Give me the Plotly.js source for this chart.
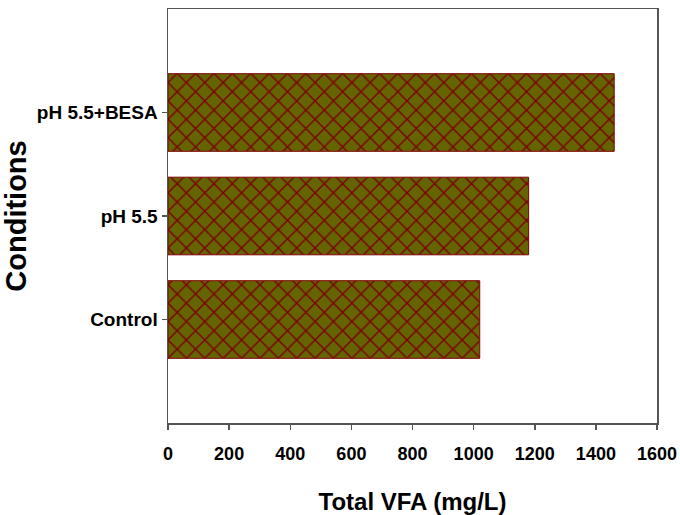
<!DOCTYPE html>
<html>
<head>
<script src="https://cdn.plot.ly/plotly-3.0.1.min.js"></script>
<style>body{margin:0;background:#fff;}#chart{width:680px;height:515px;}</style>
</head>
<body>
<div id="chart"></div>
<script>
const categories = ["Control", "pH 5.5", "pH 5.5+BESA"];
const totalVFA = [1020, 1180, 1460];
const xTicks = [0, 200, 400, 600, 800, 1000, 1200, 1400, 1600];

const font = {family: "Liberation Sans, Arial, sans-serif", color: "#000", weight: "bold"};

Plotly.newPlot("chart", [{
  type: "bar",
  orientation: "h",
  y: categories,
  x: totalVFA,
  width: 0.75,
  marker: {
    color: "#646400",
    line: {color: "#800000", width: 1},
    pattern: {shape: "x", fgcolor: "#7a0000", bgcolor: "#646400", size: 13, solidity: 0.2, fillmode: "replace"}
  },
  hoverinfo: "none"
}], {
  width: 680, height: 515,
  margin: {l: 168, r: 23, t: 9, b: 92},
  paper_bgcolor: "#fff", plot_bgcolor: "#fff",
  showlegend: false,
  xaxis: {
    range: [0, 1600], tickvals: xTicks, ticktext: xTicks.map(String),
    showgrid: false, zeroline: false,
    showline: true, linecolor: "#555", linewidth: 1.5, mirror: true,
    ticks: "outside", ticklen: 5, tickcolor: "#555", tickwidth: 1.5,
    ticklabelstandoff: 9,
    tickfont: Object.assign({}, font, {size: 18}),
    title: {text: "Total VFA (mg/L)", font: Object.assign({}, font, {size: 24}), standoff: 30},
    automargin: false
  },
  yaxis: {
    type: "category", range: [-1, 3],
    showgrid: false, zeroline: false,
    showline: true, linecolor: "#555", linewidth: 1.5, mirror: true,
    ticks: "outside", ticklen: 5, tickcolor: "#555", tickwidth: 1.5,
    tickfont: Object.assign({}, font, {size: 19}),
    title: {text: "Conditions", font: Object.assign({}, font, {size: 29}), standoff: 1},
    automargin: false
  }
}, {displayModeBar: false, staticPlot: true});
</script>
</body>
</html>
